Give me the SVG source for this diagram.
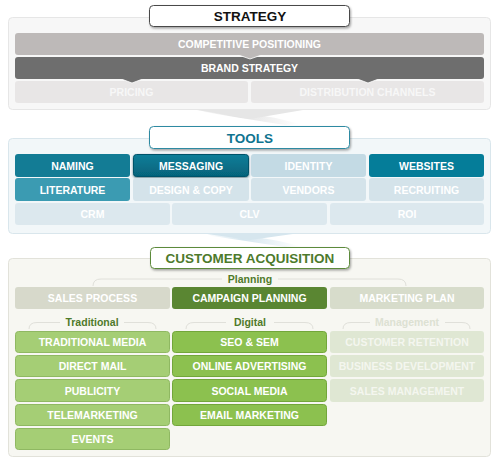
<svg xmlns="http://www.w3.org/2000/svg" width="500" height="466" viewBox="0 0 500 466">
<defs>
<style>
.t{font-family:"Liberation Sans",Arial,Helvetica,sans-serif;font-weight:bold;font-size:10.5px;text-anchor:middle;fill:#ffffff}
.h{font-size:13.5px}
.lbl{font-size:10.5px;fill:#4f7a2a}
.brk{fill:none;stroke:#e0e0da;stroke-width:1}
</style>
<filter id="sh" x="-10%" y="-30%" width="120%" height="170%">
<feDropShadow dx="1" dy="1.5" stdDeviation="0.9" flood-color="#000" flood-opacity="0.35"/>
</filter>
<filter id="sh2" x="-10%" y="-30%" width="120%" height="170%">
<feDropShadow dx="0" dy="1" stdDeviation="1.2" flood-color="#00313f" flood-opacity="0.6"/>
</filter>
<linearGradient id="sw1" x1="0" y1="0" x2="1" y2="0">
<stop offset="0" stop-color="#e2e2e2" stop-opacity="0"/>
<stop offset="0.4" stop-color="#e2e2e2" stop-opacity="1"/>
<stop offset="1" stop-color="#e2e2e2" stop-opacity="0"/>
</linearGradient>
<linearGradient id="sw2" x1="0" y1="0" x2="1" y2="0">
<stop offset="0" stop-color="#d5e6ef" stop-opacity="0"/>
<stop offset="0.4" stop-color="#d5e6ef" stop-opacity="1"/>
<stop offset="1" stop-color="#d5e6ef" stop-opacity="0"/>
</linearGradient>
<linearGradient id="msg" x1="0" y1="0" x2="0" y2="1">
<stop offset="0" stop-color="#0a7e99"/>
<stop offset="1" stop-color="#06637b"/>
</linearGradient>
</defs>
<rect width="500" height="466" fill="#ffffff"/>

<!-- decorative swooshes -->
<path d="M195,109 Q250,110 300,124 L285,125 Q240,118 205,112 Z" fill="url(#sw1)"/>
<path d="M205,233 Q255,234 300,246 L285,247 Q240,240 212,236 Z" fill="url(#sw2)"/>

<!-- STRATEGY section -->
<g id="strategy">
<rect x="8.5" y="17.5" width="482" height="92" rx="4" fill="#f7f7f7" stroke="#e6e6e6"/>
<polygon points="197,110 303,110 250,119" fill="#e6e6e6"/>
<g id="pricing"><rect x="15" y="81" width="233" height="22" rx="3" fill="#e8e6e6"/><text class="t" x="131.5" y="96" style="fill:#f7f7f7">PRICING</text></g>
<g id="distribution"><rect x="251" y="81" width="233" height="22" rx="3" fill="#e8e6e6"/><text class="t" x="367.5" y="96" style="fill:#f7f7f7">DISTRIBUTION CHANNELS</text></g>
<g id="brand"><rect x="15" y="57" width="469" height="22" rx="3" fill="#6e6e6e"/>
<polygon points="120,78.5 144,78.5 132,83" fill="#6e6e6e" stroke="#ffffff" stroke-width="0.8" stroke-linejoin="round"/>
<polygon points="356,78.5 380,78.5 368,83" fill="#6e6e6e" stroke="#ffffff" stroke-width="0.8" stroke-linejoin="round"/>
<rect x="118" y="77" width="28" height="2" fill="#6e6e6e"/><rect x="354" y="77" width="28" height="2" fill="#6e6e6e"/>
<text class="t" x="249.5" y="72">BRAND STRATEGY</text></g>
<g id="competitive"><rect x="15" y="33" width="469" height="22" rx="3" fill="#bdb9b8"/>
<polygon points="237,54.5 263,54.5 250,59" fill="#bdb9b8" stroke="#ffffff" stroke-width="0.8" stroke-linejoin="round"/>
<rect x="235" y="53" width="30" height="2" fill="#bdb9b8"/>
<text class="t" x="249.5" y="48">COMPETITIVE POSITIONING</text></g>
<g id="strategy-title"><rect x="149.5" y="5.5" width="200" height="21" rx="4" fill="#ffffff" stroke="#4a4a4a" filter="url(#sh)"/><text class="t h" x="250" y="21" style="fill:#111111">STRATEGY</text></g>
</g>

<!-- TOOLS section -->
<g id="tools">
<rect x="8.5" y="138.5" width="482" height="95" rx="4" fill="#f2f7f9" stroke="#d9e6ec"/>
<polygon points="200,233 300,233 250,240" fill="#d6e6ee"/>
<g id="naming"><rect x="15" y="154" width="115" height="23" rx="3" fill="#137c95"/><text class="t" x="72.5" y="169.5">NAMING</text></g>
<g id="messaging"><rect x="133.5" y="154.5" width="115" height="22" rx="3" fill="url(#msg)" stroke="#05526a" filter="url(#sh2)"/><text class="t" x="191" y="169.5">MESSAGING</text></g>
<g id="identity"><rect x="251" y="154" width="115" height="23" rx="3" fill="#c3dae4"/><text class="t" x="308.5" y="169.5">IDENTITY</text></g>
<g id="websites"><rect x="369" y="154" width="115" height="23" rx="3" fill="#057d99"/><text class="t" x="426.5" y="169.5">WEBSITES</text></g>
<g id="literature"><rect x="15" y="178" width="115" height="23" rx="3" fill="#3b9bb2"/><text class="t" x="72.5" y="193.5">LITERATURE</text></g>
<g id="design"><rect x="133" y="178" width="116" height="23" rx="3" fill="#d4e3ea"/><text class="t" x="191" y="193.5">DESIGN &amp; COPY</text></g>
<g id="vendors"><rect x="251" y="178" width="115" height="23" rx="3" fill="#d4e3ea"/><text class="t" x="308.5" y="193.5">VENDORS</text></g>
<g id="recruiting"><rect x="369" y="178" width="115" height="23" rx="3" fill="#d4e3ea"/><text class="t" x="426.5" y="193.5">RECRUITING</text></g>
<g id="crm"><rect x="15" y="203" width="155" height="22" rx="3" fill="#dce8ee"/><text class="t" x="92.5" y="218">CRM</text></g>
<g id="clv"><rect x="172" y="203" width="155" height="22" rx="3" fill="#dce8ee"/><text class="t" x="249.5" y="218">CLV</text></g>
<g id="roi"><rect x="330" y="203" width="154" height="22" rx="3" fill="#dce8ee"/><text class="t" x="407" y="218">ROI</text></g>
<g id="tools-title"><rect x="149.5" y="126.5" width="200" height="22" rx="4" fill="#ffffff" stroke="#2f8aa2" filter="url(#sh)"/><text class="t h" x="250" y="142.5" style="fill:#0f7490">TOOLS</text></g>
</g>

<!-- CUSTOMER ACQUISITION section -->
<g id="acquisition">
<rect x="8.5" y="258.5" width="482" height="198" rx="4" fill="#f7f7f2" stroke="#e2e2da"/>
<g id="brackets">
<path class="brk" d="M93,286 Q93,279 101,279 L222,279 M278,279 L398,279 Q406,279 406,286"/>
<path class="brk" d="M29,329 Q29,322.5 37,322.5 L60,322.5 M124,322.5 L148,322.5 Q156,322.5 156,329"/>
<path class="brk" d="M186,329 Q186,322.5 194,322.5 L226,322.5 M274,322.5 L305,322.5 Q313,322.5 313,329"/>
<path class="brk" d="M343,329 Q343,322.5 351,322.5 L370,322.5 M445,322.5 L462,322.5 Q470,322.5 470,329"/>
</g>
<text class="t lbl" x="250" y="283">Planning</text>
<g id="sales-process"><rect x="15" y="287" width="155" height="22" rx="3" fill="#d7d9cb"/><text class="t" x="92.5" y="302">SALES PROCESS</text></g>
<g id="campaign-planning"><rect x="172" y="287" width="155" height="22" rx="3" fill="#5a8632"/><text class="t" x="249.5" y="302">CAMPAIGN PLANNING</text></g>
<g id="marketing-plan"><rect x="330" y="287" width="154" height="22" rx="3" fill="#d7dccb"/><text class="t" x="407" y="302">MARKETING PLAN</text></g>
<text class="t lbl" x="92" y="326">Traditional</text>
<text class="t lbl" x="250" y="326">Digital</text>
<text class="t lbl" x="407" y="326" style="fill:#dde1d3">Management</text>

<g id="traditional-media"><rect x="15.5" y="331.5" width="154" height="21" rx="3" fill="#a5ce75" stroke="#8fb862"/><text class="t" x="92.5" y="346">TRADITIONAL MEDIA</text></g>
<g id="direct-mail"><rect x="15.5" y="355.5" width="154" height="21" rx="3" fill="#a5ce75" stroke="#8fb862"/><text class="t" x="92.5" y="370">DIRECT MAIL</text></g>
<g id="publicity"><rect x="15.5" y="379.5" width="154" height="22" rx="3" fill="#a5ce75" stroke="#8fb862"/><text class="t" x="92.5" y="394.5">PUBLICITY</text></g>
<g id="telemarketing"><rect x="15.5" y="404.5" width="154" height="21" rx="3" fill="#a5ce75" stroke="#8fb862"/><text class="t" x="92.5" y="419">TELEMARKETING</text></g>
<g id="events"><rect x="15.5" y="428.5" width="154" height="21" rx="3" fill="#a5ce75" stroke="#8fb862"/><text class="t" x="92.5" y="443">EVENTS</text></g>

<g id="seo-sem"><rect x="172.5" y="331.5" width="154" height="21" rx="3" fill="#8cc14f" stroke="#72a63a"/><text class="t" x="249.5" y="346">SEO &amp; SEM</text></g>
<g id="online-advertising"><rect x="172.5" y="355.5" width="154" height="21" rx="3" fill="#8cc14f" stroke="#72a63a"/><text class="t" x="249.5" y="370">ONLINE ADVERTISING</text></g>
<g id="social-media"><rect x="172.5" y="379.5" width="154" height="22" rx="3" fill="#8cc14f" stroke="#72a63a"/><text class="t" x="249.5" y="394.5">SOCIAL MEDIA</text></g>
<g id="email-marketing"><rect x="172.5" y="404.5" width="154" height="21" rx="3" fill="#8cc14f" stroke="#72a63a"/><text class="t" x="249.5" y="419">EMAIL MARKETING</text></g>

<g id="customer-retention"><rect x="330" y="331" width="154" height="22" rx="3" fill="#dfe7d3"/><text class="t" x="407" y="346" style="fill:#f4f6ef">CUSTOMER RETENTION</text></g>
<g id="business-development"><rect x="330" y="355" width="154" height="22" rx="3" fill="#dfe7d3"/><text class="t" x="407" y="370" style="fill:#f4f6ef">BUSINESS DEVELOPMENT</text></g>
<g id="sales-management"><rect x="330" y="379" width="154" height="23" rx="3" fill="#dfe7d3"/><text class="t" x="407" y="394.5" style="fill:#f4f6ef">SALES MANAGEMENT</text></g>

<g id="acquisition-title"><rect x="150.5" y="247.5" width="199" height="21" rx="4" fill="#ffffff" stroke="#5c8a3a" filter="url(#sh)"/><text class="t h" x="250" y="263" style="fill:#4d7a2c">CUSTOMER ACQUISITION</text></g>
</g>
</svg>
